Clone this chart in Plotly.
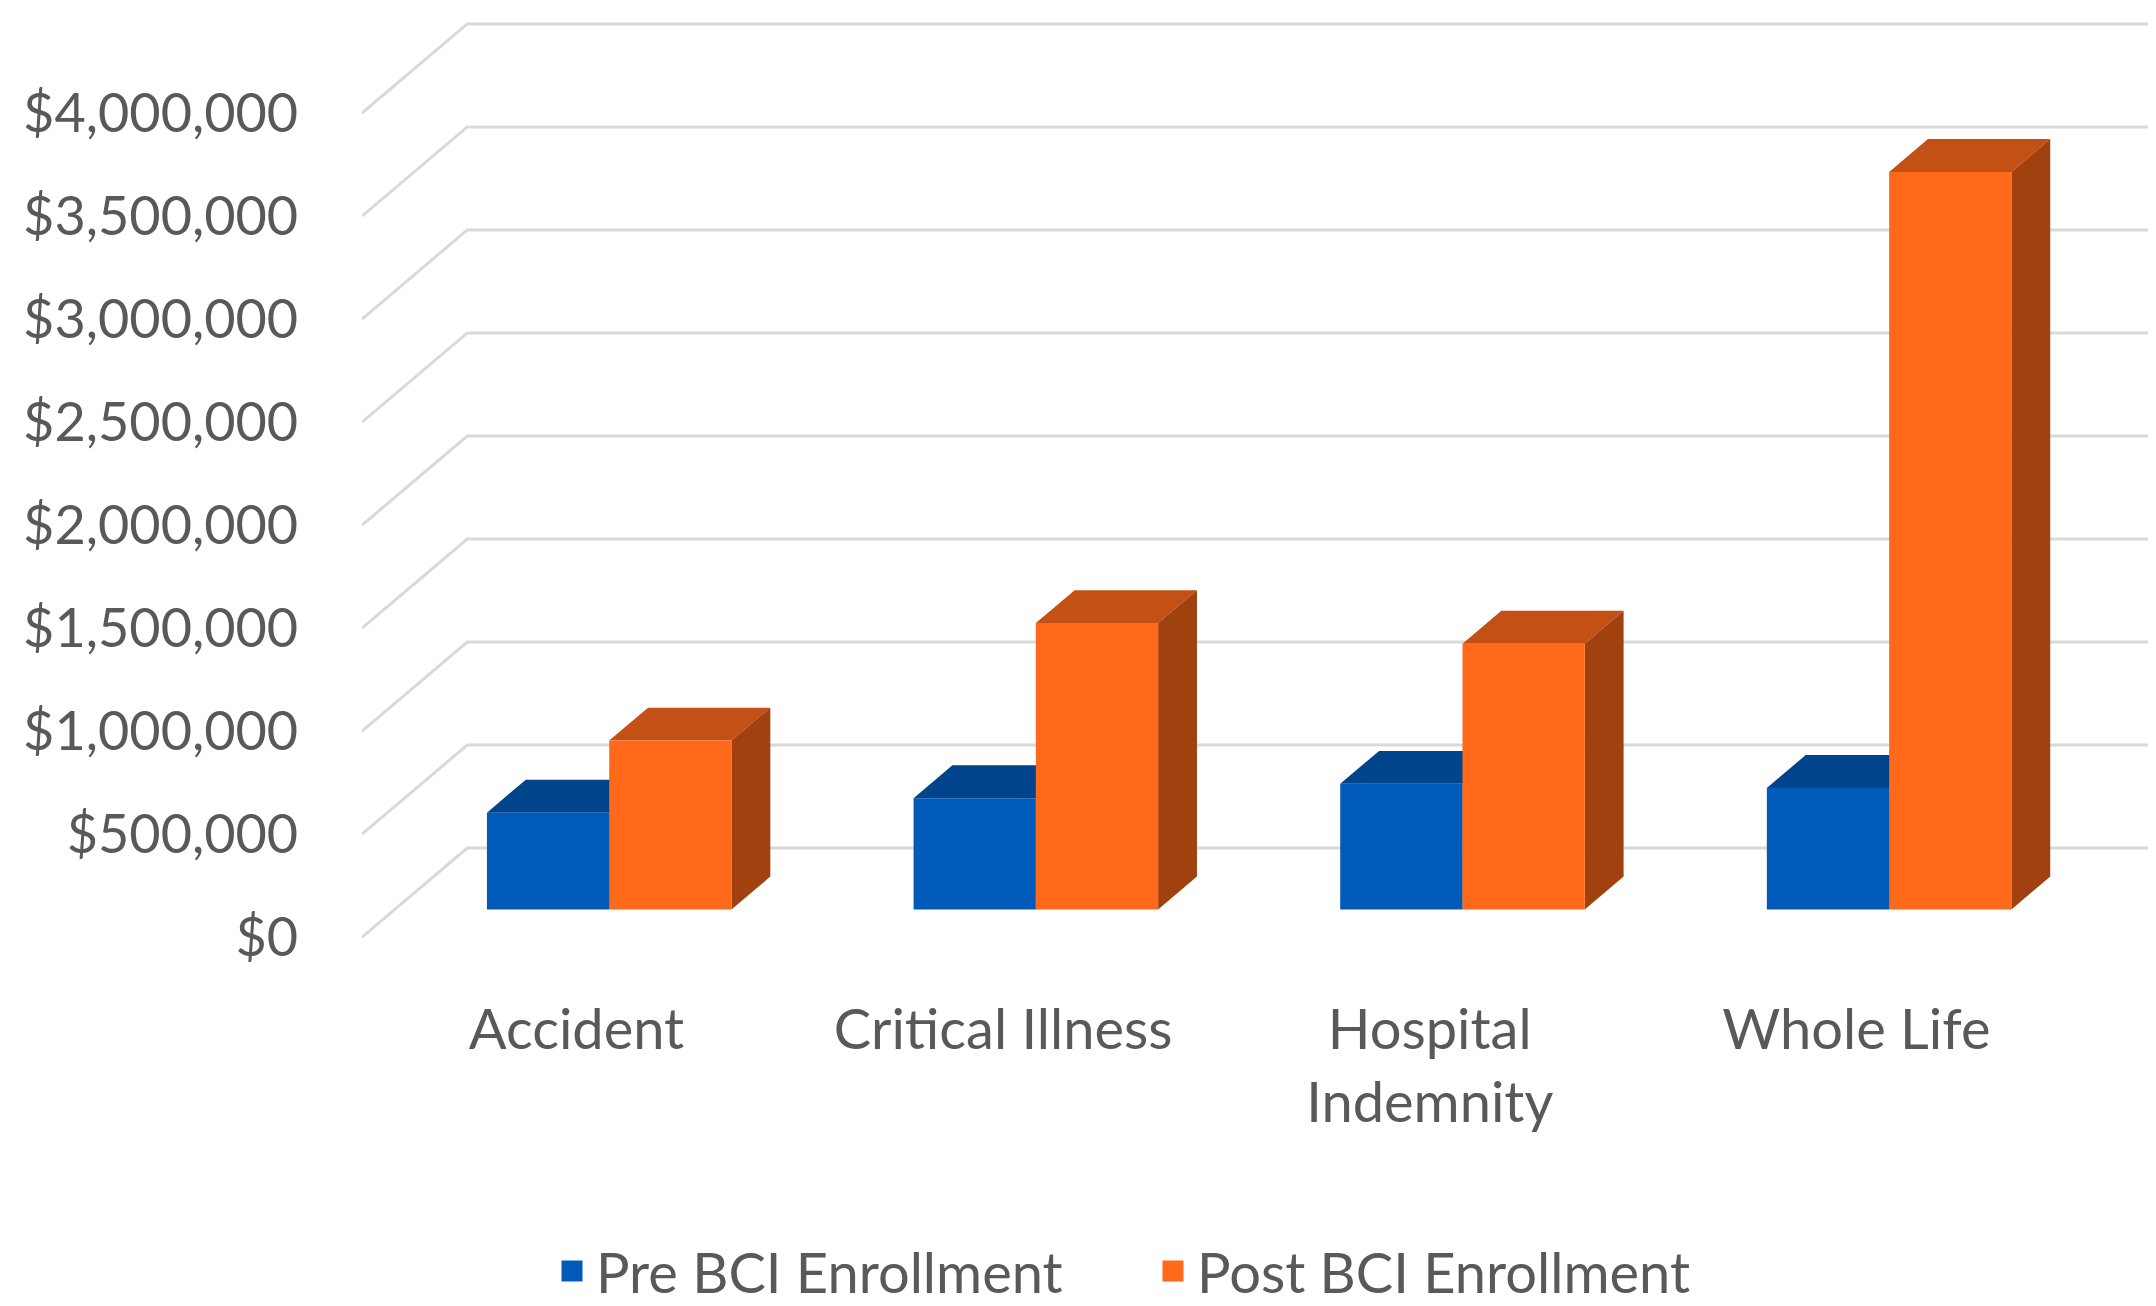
import plotly.graph_objects as go

# ---- data ----
categories = ["Accident", "Critical Illness", "Hospital Indemnity", "Whole Life"]
category_ticktext = ["Accident", "Critical Illness", "Hospital<br>Indemnity", "Whole Life"]
pre_bci = [470000, 540000, 610000, 590000]
post_bci = [820000, 1390000, 1290000, 3580000]
series_names = ["Pre BCI Enrollment", "Post BCI Enrollment"]
y_tickvals = [0, 500000, 1000000, 1500000, 2000000, 2500000, 3000000, 3500000, 4000000]
y_ticktext = ["$0", "$500,000", "$1,000,000", "$1,500,000", "$2,000,000",
              "$2,500,000", "$3,000,000", "$3,500,000", "$4,000,000"]

# ---- styling / pseudo-3D geometry (in axis units) ----
FONT = "Lato"
TXT = "#595959"
GRID = "#D9D9D9"
BLUE_FRONT, BLUE_TOP, BLUE_SIDE = "#005AB9", "#00448C", "#003B78"
ORG_FRONT, ORG_TOP, ORG_SIDE = "#FF6919", "#C35014", "#A0410F"

W = 0.2866          # bar width (category units)
DX = 0.2467         # full wall depth, x shift (category units)
DY = 432700         # full wall depth, y shift (dollars)
F1, F2 = 0.311, 0.68  # bar front / back depth fractions
X_MIN, X_MAX = -0.5027, 3.721
Y_MIN, Y_MAX = -105770, 4461500

fig = go.Figure()

# gridlines: front edge -> back wall -> across
for v in y_tickvals:
    fig.add_trace(go.Scatter(
        x=[X_MIN, X_MIN + DX, X_MAX], y=[v, v + DY, v + DY],
        mode="lines", line=dict(color=GRID, width=3),
        hoverinfo="skip", showlegend=False))


def faces(values, left):
    fx, fy, tx, ty, sx, sy = [], [], [], [], [], []
    dd = F2 - F1
    for i, v in enumerate(values):
        xc = i + F1 * DX
        x0, x1 = (xc - W, xc) if left else (xc, xc + W)
        y0 = F1 * DY
        y1 = y0 + v
        fx += [x0, x1, x1, x0, x0, None]
        fy += [y0, y0, y1, y1, y0, None]
        tx += [x0, x1, x1 + dd * DX, x0 + dd * DX, x0, None]
        ty += [y1, y1, y1 + dd * DY, y1 + dd * DY, y1, None]
        sx += [x1, x1 + dd * DX, x1 + dd * DX, x1, x1, None]
        sy += [y0, y0 + dd * DY, y1 + dd * DY, y1, y0, None]
    return (fx, fy), (tx, ty), (sx, sy)


def poly(xy, color, name):
    return go.Scatter(x=xy[0], y=xy[1], mode="lines", fill="toself",
                      fillcolor=color, line=dict(width=0, color=color),
                      hoverinfo="skip", showlegend=False, name=name)


bf, bt, bs = faces(pre_bci, True)
of, ot, os_ = faces(post_bci, False)

fig.add_trace(poly(bs, BLUE_SIDE, series_names[0]))
fig.add_trace(poly(bt, BLUE_TOP, series_names[0]))
fig.add_trace(poly(bf, BLUE_FRONT, series_names[0]))
fig.add_trace(poly(ot, ORG_TOP, series_names[1]))
fig.add_trace(poly(os_, ORG_SIDE, series_names[1]))
fig.add_trace(poly(of, ORG_FRONT, series_names[1]))

# legend entries
for nm, col in zip(series_names, [BLUE_FRONT, ORG_FRONT]):
    fig.add_trace(go.Scatter(x=[None], y=[None], mode="markers", name=nm,
                             marker=dict(symbol="square", size=27, color=col,
                                         line=dict(width=6, color=col))))

fig.update_layout(
    width=2156, height=1306,
    margin=dict(l=354, r=0, t=10, b=346),
    paper_bgcolor="white", plot_bgcolor="white",
    font=dict(family=FONT, color=TXT, size=54),
    showlegend=True,
    legend=dict(orientation="h", x=(540 - 354) / 1802, y=-0.3316,
                xanchor="left", yanchor="middle",
                font=dict(family=FONT, size=56, color=TXT),
                itemwidth=38,
                entrywidth=548, entrywidthmode="pixels",
                bgcolor="rgba(0,0,0,0)"),
    xaxis=dict(range=[X_MIN, X_MAX], tickvals=[0, 1, 2, 3], ticktext=category_ticktext,
               showgrid=False, zeroline=False, showline=False, automargin=False,
               ticks="outside", ticklen=22, tickcolor="rgba(0,0,0,0)",
               tickfont=dict(family=FONT, size=56, color=TXT)),
    yaxis=dict(range=[Y_MIN, Y_MAX], tickvals=y_tickvals, ticktext=y_ticktext,
               showgrid=False, zeroline=False, showline=False, automargin=False,
               ticks="outside", ticklen=52, tickcolor="rgba(0,0,0,0)",
               tickfont=dict(family=FONT, size=54, color=TXT)),
)

fig.write_html("out.html")
